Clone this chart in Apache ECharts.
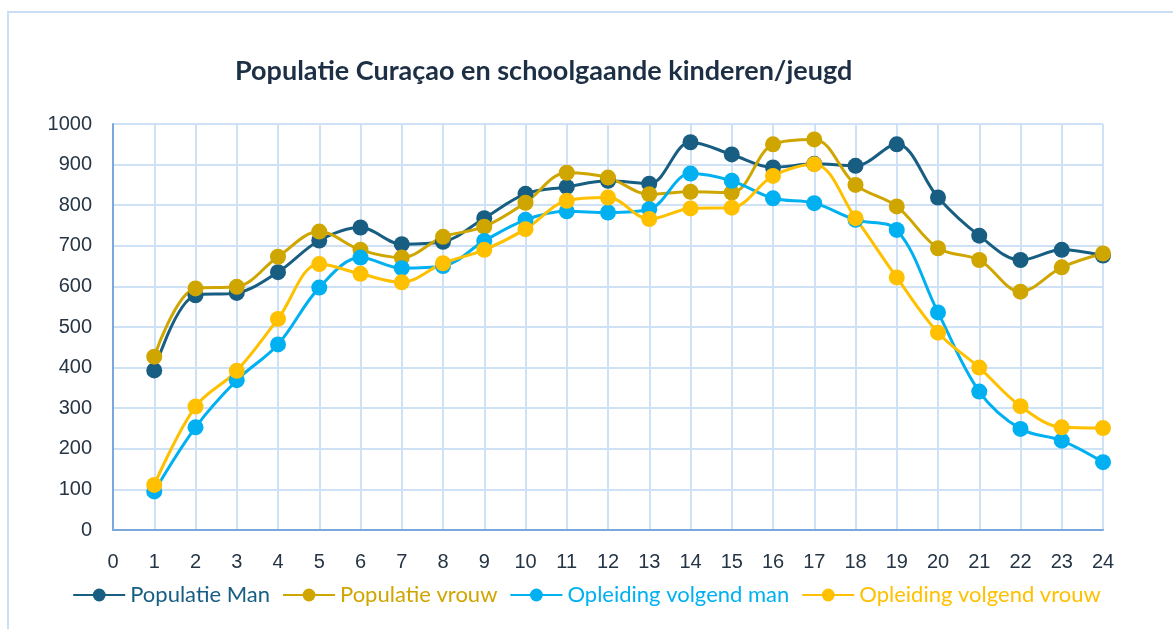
<!DOCTYPE html>
<html>
<head>
<meta charset="utf-8">
<script src="https://cdn.jsdelivr.net/npm/echarts@6/dist/echarts.min.js"></script>
<style>html,body{margin:0;padding:0;background:#fff}#c{width:1173px;height:629px}</style>
</head>
<body>
<div id="c"></div>
<script>
const ages = [1,2,3,4,5,6,7,8,9,10,11,12,13,14,15,16,17,18,19,20,21,22,23,24];
const xTickLabels = ['0','1','2','3','4','5','6','7','8','9','10','11','12','13','14','15','16','17','18','19','20','21','22','23','24'];
const yTickLabels = ['0','100','200','300','400','500','600','700','800','900','1000'];
const populatieMan = [393,578,584,635,713,745,704,710,768,828,845,860,853,955,925,893,902,897,950,819,725,665,690,676];
const populatieVrouw = [427,595,599,673,735,690,671,722,747,806,880,868,827,833,831,950,962,850,797,694,665,587,647,681];
const opleidingMan = [95,253,369,457,597,671,645,650,712,764,785,782,790,878,860,817,805,764,739,536,341,249,220,167];
const opleidingVrouw = [111,304,392,520,655,631,610,657,690,741,811,819,766,792,794,872,901,768,622,486,400,305,253,251];
const seriesNames = ['Populatie Man','Populatie vrouw','Opleiding volgend man','Opleiding volgend vrouw'];
const seriesColors = ['#175e82','#cfa600','#00b0f0','#ffc000'];

const allData = [populatieMan, populatieVrouw, opleidingMan, opleidingVrouw];
const chart = echarts.init(document.getElementById('c'), null, {renderer:'canvas'});
const labelFont = 'Liberation Sans';
chart.setOption({
  animation:false,
  backgroundColor:'#fff',
  graphic:[{type:'rect', shape:{x:8,y:12,width:1200,height:700}, style:{fill:'none', stroke:'#c9def5', lineWidth:2}, z:-1}],
  title:{text:'Populatie Curaçao en schoolgaande kinderen/jeugd', left:230, top:53,
    textStyle:{fontFamily:'Lato', fontWeight:'bold', fontSize:27, color:'#1d2f45'}},
  grid:{left:113, right:70, top:124, bottom:99},
  xAxis:{type:'value', min:0, max:24, interval:1,
    axisLine:{show:true, lineStyle:{color:'#7aa8dc', width:2}},
    axisTick:{show:false},
    axisLabel:{fontFamily:labelFont, fontSize:20, color:'#263545', margin:22,
      formatter:(v)=>xTickLabels[v] !== undefined ? xTickLabels[v] : ''},
    splitLine:{show:true, lineStyle:{color:'#cfe1f5', width:2}}},
  yAxis:{type:'value', min:0, max:1000, interval:100,
    axisLine:{show:true, lineStyle:{color:'#7aa8dc', width:2}},
    axisTick:{show:false},
    axisLabel:{fontFamily:labelFont, fontSize:20, color:'#263545', margin:21,
      formatter:(v)=>yTickLabels[Math.round(v/100)]},
    splitLine:{show:true, lineStyle:{color:'#cfe1f5', width:2}}},
  legend:{bottom:18, left:'center', itemWidth:52, itemHeight:16, itemGap:12,
    textStyle:{fontFamily:'Lato', fontSize:22},
    data:seriesNames.map((n,i)=>({name:n, textStyle:{color:seriesColors[i]}}))},
  series:allData.map((d,i)=>({
    name:seriesNames[i], type:'line', smooth:0.35,
    data:d.map((v,j)=>[ages[j], v]),
    symbol:'circle', symbolSize:16,
    lineStyle:{color:seriesColors[i], width:3},
    itemStyle:{color:seriesColors[i]}
  }))
});
</script>
</body>
</html>
